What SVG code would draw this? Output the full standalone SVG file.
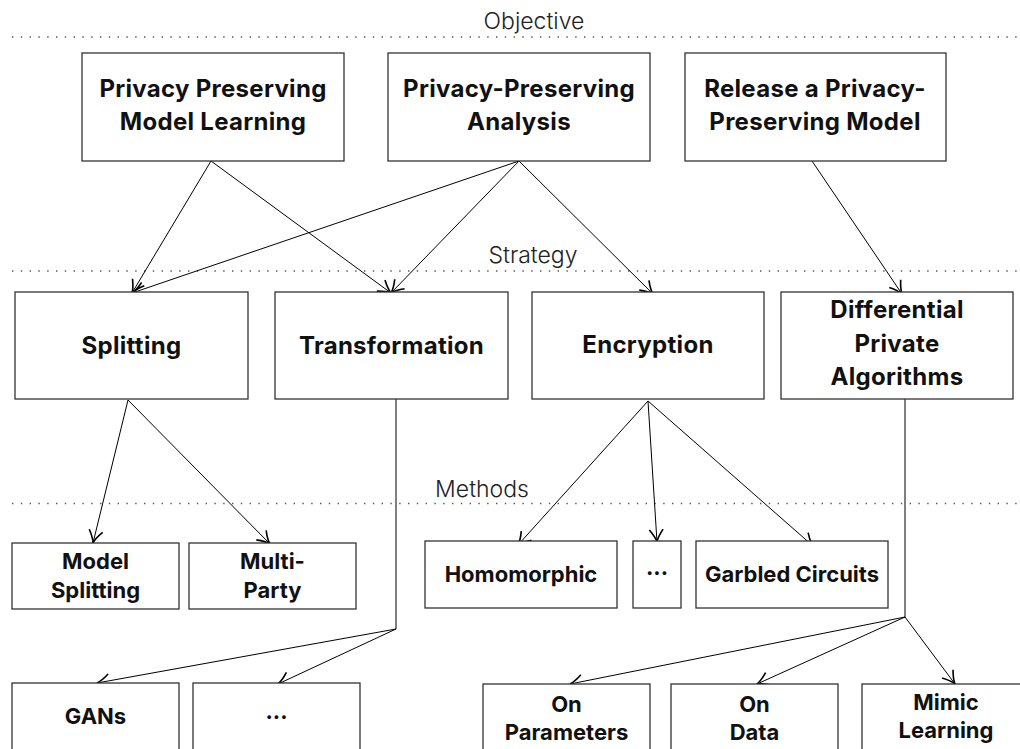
<svg xmlns="http://www.w3.org/2000/svg" width="1020" height="749" viewBox="0 0 1020 749">
<defs>
<style>
.box{fill:#fff;stroke:#333;stroke-width:1.3}
.t{font-family:Inter,Lato,"Noto Sans","DejaVu Sans",sans-serif;font-weight:bold;font-size:22px;fill:#111;text-anchor:middle}
.tb{font-size:24px;letter-spacing:0.3px}
.lbl{font-family:Inter,Lato,"Noto Sans","DejaVu Sans",sans-serif;font-weight:300;font-size:23px;fill:#222;text-anchor:middle}
.sep{stroke:#555;stroke-width:1.4;stroke-dasharray:1.4 7.4;fill:none}
.c{stroke:#000;stroke-width:1;fill:none}
.a{marker-end:url(#to)}
</style>
<marker id="to" markerUnits="userSpaceOnUse" markerWidth="20" markerHeight="20" refX="0" refY="0" viewBox="-12 -8 14 16" orient="auto" overflow="visible">
<path d="M-10,-5.5 C-6,-2.5 -2.5,-0.6 0,0 C-2.5,0.6 -6,2.5 -10,5.5" fill="none" stroke="#000" stroke-width="1.3"/>
</marker>
</defs>
<rect width="1020" height="749" fill="#fff"/>
<g id="layers">
<line class="sep" x1="12" y1="37" x2="1020" y2="37"/>
<line class="sep" x1="12" y1="271" x2="1020" y2="271"/>
<line class="sep" x1="12" y1="503.5" x2="1020" y2="503.5"/>
<text class="lbl" x="534" y="29">Objective</text>
<text class="lbl" x="533" y="263">Strategy</text>
<text class="lbl" x="482" y="497">Methods</text>
</g>
<g id="connectors">
<line class="c a" x1="211" y1="161" x2="132" y2="293"/>
<line class="c a" x1="211" y1="161" x2="391" y2="293"/>
<line class="c a" x1="519" y1="161" x2="132" y2="293"/>
<line class="c a" x1="519" y1="161" x2="391" y2="293"/>
<line class="c a" x1="519" y1="161" x2="653" y2="294"/>
<line class="c a" x1="812" y1="161" x2="902" y2="294"/>
<line class="c a" x1="128" y1="400" x2="93" y2="543"/>
<line class="c a" x1="128" y1="400" x2="270" y2="544"/>
<line class="c a" x1="648" y1="401" x2="518" y2="545"/>
<line class="c a" x1="648" y1="401" x2="657" y2="542"/>
<line class="c a" x1="648" y1="401" x2="813" y2="546"/>
<polyline class="c" points="396,399 396,629"/>
<line class="c a" x1="396" y1="629" x2="97" y2="683"/>
<line class="c a" x1="396" y1="629" x2="278" y2="684"/>
<polyline class="c" points="905,399 905,617"/>
<line class="c a" x1="905" y1="617" x2="570" y2="684"/>
<line class="c a" x1="905" y1="617" x2="757" y2="684"/>
<line class="c a" x1="905" y1="617" x2="955" y2="684"/>
</g>
<g id="n-ppml"><rect class="box" x="82" y="53" width="262" height="108"/><text class="t tb" x="213" y="97">Privacy Preserving</text><text class="t tb" x="213" y="130">Model Learning</text></g>
<g id="n-ppa"><rect class="box" x="388" y="53" width="262" height="108"/><text class="t tb" x="519" y="97">Privacy-Preserving</text><text class="t tb" x="519" y="130">Analysis</text></g>
<g id="n-rppm"><rect class="box" x="685" y="53" width="261" height="108"/><text class="t tb" x="815" y="97">Release a Privacy-</text><text class="t tb" x="815" y="130">Preserving Model</text></g>
<g id="n-split"><rect class="box" x="15" y="292" width="233" height="107"/><text class="t tb" x="131.5" y="354">Splitting</text></g>
<g id="n-trans"><rect class="box" x="275" y="292" width="233" height="107"/><text class="t tb" x="391.5" y="354">Transformation</text></g>
<g id="n-enc"><rect class="box" x="532" y="292" width="232" height="107"/><text class="t tb" x="648" y="353">Encryption</text></g>
<g id="n-dp"><rect class="box" x="781" y="292" width="232" height="107"/><text class="t tb" x="897" y="318">Differential</text><text class="t tb" x="897" y="352">Private</text><text class="t tb" x="897" y="385">Algorithms</text></g>
<g id="n-ms"><rect class="box" x="12" y="543" width="167" height="66"/><text class="t" x="95.5" y="569">Model</text><text class="t" x="95.5" y="598">Splitting</text></g>
<g id="n-mp"><rect class="box" x="189" y="543" width="167" height="66"/><text class="t" x="272.5" y="569">Multi-</text><text class="t" x="272.5" y="598">Party</text></g>
<g id="n-hom"><rect class="box" x="425" y="541" width="192" height="67"/><text class="t" x="521" y="582">Homomorphic</text></g>
<g id="n-encdots"><rect class="box" x="633" y="541" width="48" height="67"/><text class="t" x="657" y="575">...</text></g>
<g id="n-gc"><rect class="box" x="696" y="541" width="192" height="67"/><text class="t" x="792" y="582">Garbled Circuits</text></g>
<g id="n-gan"><rect class="box" x="12" y="683" width="167" height="80"/><text class="t" x="95.5" y="724">GANs</text></g>
<g id="n-trdots"><rect class="box" x="193" y="683" width="167" height="80"/><text class="t" x="276.5" y="719">...</text></g>
<g id="n-op"><rect class="box" x="483" y="684" width="167" height="80"/><text class="t" x="566.5" y="712">On</text><text class="t" x="566.5" y="740">Parameters</text></g>
<g id="n-od"><rect class="box" x="671" y="684" width="167" height="80"/><text class="t" x="754.5" y="712">On</text><text class="t" x="754.5" y="740">Data</text></g>
<g id="n-ml"><rect class="box" x="862" y="684" width="167" height="80"/><text class="t" x="946" y="710">Mimic</text><text class="t" x="946" y="738">Learning</text></g>
</svg>
